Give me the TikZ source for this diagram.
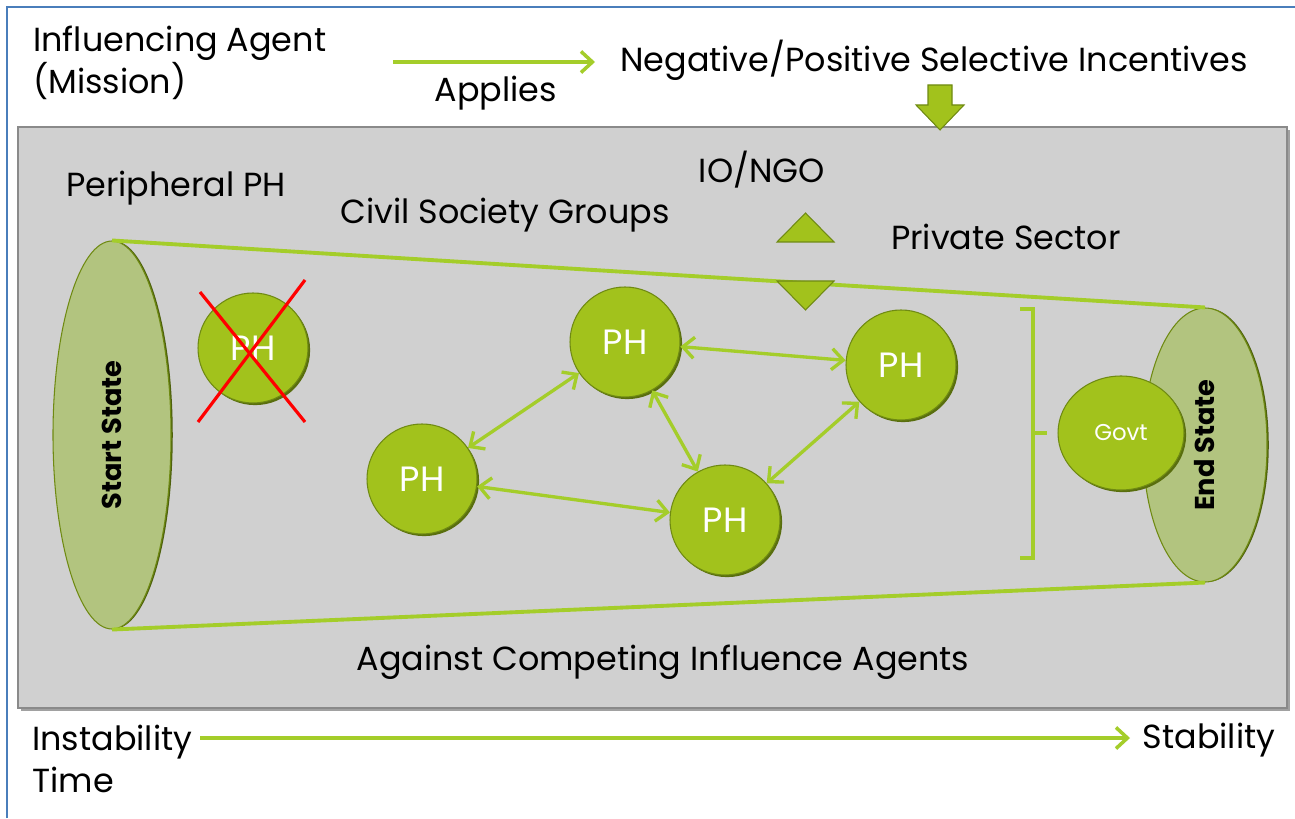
\documentclass[tikz,border=0pt]{standalone}
\usepackage{fontspec}
\setmainfont{Poppins}
\definecolor{holder-green}{HTML}{A2C21C}
\definecolor{holder-rim}{HTML}{6F8A12}
\definecolor{link-green}{HTML}{A4CD2A}
\definecolor{state-green}{HTML}{B2C47F}
\definecolor{frame-gray}{HTML}{D0D0D0}
\definecolor{frame-edge}{HTML}{8A8A8A}
\definecolor{page-blue}{HTML}{4A7EBB}
\usetikzlibrary{arrows.meta, shapes.geometric, shadows}
\tikzset{
  caption/.style={
    inner sep=0pt, font=\fontsize{19}{22.7}\selectfont
  },
  holder/.style={
    circle, draw=holder-rim, fill=holder-green, line width=.6pt,
    general shadow={shadow xshift=1.2pt, shadow yshift=-1.2pt, fill=holder-rim!80!black},
    minimum size=2.2cm, text=white, font=\fontsize{20}{22}\selectfont
  },
  state/.style={
    ellipse, rotate=90, draw=holder-rim, fill=state-green,
    general shadow={shadow xshift=1pt, shadow yshift=0pt, fill=holder-rim!70!black},
    line width=.6pt, font=\bfseries\fontsize{15.5}{17}\selectfont
  },
  connection/.style={
    draw, <->, >={Straight Barb[length=6.5pt,width=12pt]},
    color=link-green, line width=1.9pt
  },
  flow/.style={
    draw, ->, >={Straight Barb[length=6.5pt,width=12pt]},
    color=link-green, line width=2pt
  },
  rim/.style={
    draw, color=link-green, line width=2.2pt
  },
  marker/.style={
    fill=holder-green, draw=holder-rim, line width=.6pt
  }
}

\begin{document}
\begin{tikzpicture}
        \useasboundingbox (0,0) rectangle (25.9,16.36);
        \draw[page-blue, line width=1.2pt] (0.14,0) -- (0.14,16.22) -- (25.9,16.22);

        % agent and incentives
        \node[caption, anchor=west, align=left] (agent) at (0.66,15.1) {Influencing Agent\\(Mission)};
        \node[caption] (incentives) at (18.68,15.16) {Negative/Positive Selective Incentives};
        \node[caption] (applies) at (9.92,14.5) {Applies};
        \coordinate (a0) at (7.86,15.12);
        \coordinate (a1) at (11.9,15.12);
        \draw[flow] (a0) -- (a1);

        % the arena
        \fill[frame-edge!80] (0.42,2.14) rectangle (25.8,13.76);
        \draw[frame-edge, fill=frame-gray, line width=.8pt] (0.36,2.2) rectangle (25.74,13.82);
        \draw[marker] (18.56,14.66) -- (19.04,14.66) -- (19.04,14.26) -- (19.28,14.26)
          -- (18.8,13.76) -- (18.32,14.26) -- (18.56,14.26) -- cycle;

        \node[caption] (ngo) at (15.24,12.96) {IO/NGO};
        \node[caption] (periph) at (3.52,12.6) {Peripheral PH};
        \node[caption] (civil) at (10.1,12.06) {Civil Society Groups};
        \node[caption] (private) at (20.12,11.62) {Private Sector};
        \node[caption] (against) at (13.26,3.12) {Against Competing Influence Agents};

        % start and end of the cone
        \node[state, minimum width=7.76cm, minimum height=2.36cm] (start) at (2.24,7.66) {Start State};
        \node[state, minimum width=5.48cm, minimum height=2.48cm] (finish) at (24.1,7.46) {End State};
        \draw[rim] (start.east) -- (finish.east);
        \draw[rim] (start.west) -- (finish.west);

        \draw[marker] (15.54,11.52) -- (16.68,11.52) -- (16.11,12.1) -- cycle;
        \draw[marker] (15.54,10.74) -- (16.68,10.74) -- (16.11,10.16) -- cycle;

        % power holders
        \node[holder] (cut) at (5.06,9.4) {PH};
        \node[holder] (p1) at (12.5,9.52) {PH};
        \node[holder] (p2) at (8.44,6.78) {PH};
        \node[holder] (p3) at (14.5,5.96) {PH};
        \node[holder] (p4) at (18.02,9.06) {PH};
        \node[holder, ellipse, minimum width=2.52cm, minimum height=2.28cm,
          font=\fontsize{13}{15}\selectfont] (govt) at (22.42,7.7) {Govt};

        \draw[red, line width=1.8pt] (4.0,10.52) -- (6.1,7.92);
        \draw[red, line width=1.8pt] (6.1,10.76) -- (3.96,7.92);

        \draw[connection] (p2) -- (p1);
        \draw[connection] (p2) -- (p3);
        \draw[connection] (p1) -- (p3);
        \draw[connection] (p1) -- (p4);
        \draw[connection] (p3) -- (p4);

        \draw[rim, line width=1.8pt] (20.4,10.18) -- (20.66,10.18) -- (20.66,5.2) -- (20.4,5.2);
        \draw[rim, line width=1.8pt] (20.66,7.7) -- (20.94,7.7);

        % time axis
        \node[caption, anchor=west] (unstable) at (0.64,1.52) {Instability};
        \node[caption, anchor=west] (time) at (0.64,0.76) {Time};
        \node[caption] (stable) at (24.18,1.56) {Stability};
        \coordinate (t0) at (4.0,1.6);
        \coordinate (t1) at (22.6,1.6);
        \draw[flow] (t0) -- (t1);
      \end{tikzpicture}
\end{document}
